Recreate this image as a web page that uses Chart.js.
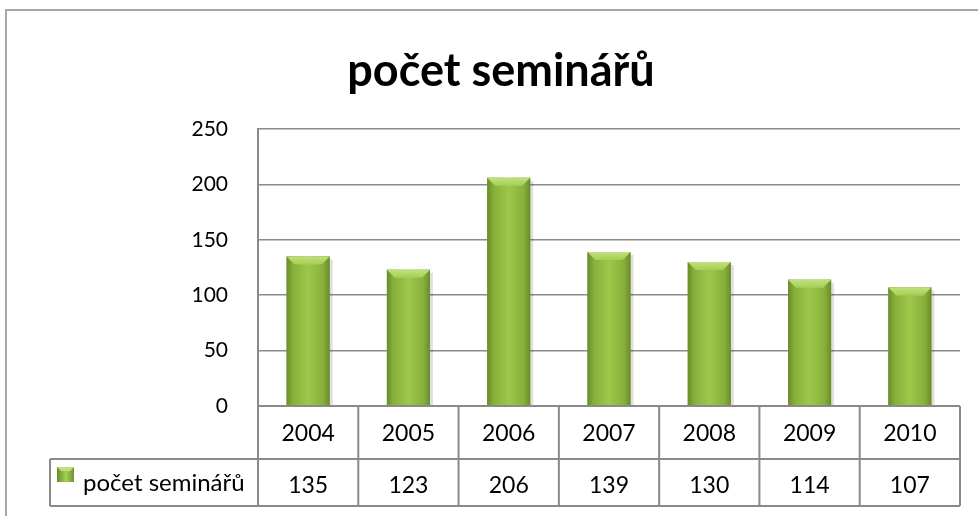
<!DOCTYPE html>
<html>
<head>
<meta charset="utf-8">
<script src="https://cdn.jsdelivr.net/npm/chart.js@4/dist/chart.umd.min.js"></script>
<style>
  html, body { margin: 0; padding: 0; background: #fff; }
  #wrap { width: 978px; height: 516px; position: relative; }
</style>
</head>
<body>
<div id="wrap"><canvas id="seminarChart" width="978" height="516"></canvas></div>
<script>
/* ---------- data ---------- */
const years = ["2004", "2005", "2006", "2007", "2008", "2009", "2010"];
const seminarCounts = [135, 123, 206, 139, 130, 114, 107];
const seriesLabel = "počet seminářů";
const chartTitle = "počet seminářů";

const FONT = "Lato, 'Open Sans', sans-serif";
const LINE = "#8a8a8a";

/* ---------- plugin: frame, title, bar shading, data table ---------- */
const tablePlugin = {
  id: "dataTable",
  beforeDraw(chart) {
    const ctx = chart.ctx;
    ctx.save();
    ctx.strokeStyle = "#a6a6a6";
    ctx.lineWidth = 2;
    ctx.beginPath();
    ctx.moveTo(6, 516);
    ctx.lineTo(6, 10);
    ctx.lineTo(978, 10);
    ctx.stroke();
    // title, centred on the whole frame
    ctx.fillStyle = "#000";
    ctx.font = "bold 45px " + FONT;
    ctx.textAlign = "center";
    ctx.textBaseline = "alphabetic";
    ctx.fillText(chartTitle, 501, 86);
    ctx.restore();
  },
  afterDatasetsDraw(chart) {
    const ctx = chart.ctx;
    const meta = chart.getDatasetMeta(0);
    meta.data.forEach(bar => {
      const l = bar.x - bar.width / 2, r = bar.x + bar.width / 2;
      const top = bar.y, bot = bar.base;
      ctx.save();
      // shadow
      ctx.fillStyle = "rgba(0,0,0,0.12)";
      ctx.fillRect(r, top + 3, 3, bot - top - 3);
      const g = ctx.createLinearGradient(l, 0, r, 0);
      g.addColorStop(0, "#6a8c2b");
      g.addColorStop(0.15, "#86b03a");
      g.addColorStop(0.5, "#9dc84a");
      g.addColorStop(0.85, "#86b03a");
      g.addColorStop(1, "#6a8c2b");
      ctx.fillStyle = g;
      ctx.fillRect(l, top, r - l, bot - top);
      // top bevel
      const bv = 8;
      const gb = ctx.createLinearGradient(0, top, 0, top + bv);
      gb.addColorStop(0, "#c2e07e");
      gb.addColorStop(1, "#a4cf54");
      ctx.fillStyle = gb;
      ctx.beginPath();
      ctx.moveTo(l, top);
      ctx.lineTo(r, top);
      ctx.lineTo(r - bv, top + bv);
      ctx.lineTo(l + bv, top + bv);
      ctx.closePath();
      ctx.fill();
      ctx.restore();
    });
  },
  afterDraw(chart) {
    const ctx = chart.ctx;
    const xs = chart.scales.x;
    const area = chart.chartArea;
    const half = (xs.getPixelForValue(1) - xs.getPixelForValue(0)) / 2;
    const y0 = area.bottom, y1 = y0 + 53, y2 = y1 + 47;
    const legendLeft = 50;

    ctx.save();
    ctx.strokeStyle = LINE;
    ctx.lineWidth = 2;
    ctx.beginPath();
    // horizontal rules
    ctx.moveTo(area.left, y0); ctx.lineTo(area.right, y0);
    ctx.moveTo(legendLeft, y1); ctx.lineTo(area.right, y1);
    ctx.moveTo(legendLeft, y2); ctx.lineTo(area.right, y2);
    // vertical rules
    ctx.moveTo(legendLeft, y1); ctx.lineTo(legendLeft, y2);
    years.forEach((_, i) => {
      const xl = xs.getPixelForValue(i) - half;
      ctx.moveTo(xl, y0); ctx.lineTo(xl, y2);
    });
    ctx.moveTo(area.right, y0); ctx.lineTo(area.right, y2);
    ctx.stroke();

    ctx.fillStyle = "#000";
    ctx.font = "23px " + FONT;
    ctx.textAlign = "center";
    ctx.textBaseline = "middle";
    years.forEach((yr, i) => {
      const cx = xs.getPixelForValue(i);
      ctx.fillText(yr, cx, (y0 + y1) / 2 + 1);
      ctx.fillText(String(seminarCounts[i]), cx, (y1 + y2) / 2 + 3);
    });

    // legend key
    const ky = y1 + 8;
    const g = ctx.createLinearGradient(57, 0, 75, 0);
    g.addColorStop(0, "#6a8c2b");
    g.addColorStop(0.5, "#a5cf52");
    g.addColorStop(1, "#6a8c2b");
    ctx.fillStyle = g;
    ctx.fillRect(57, ky, 17, 15);
    ctx.fillStyle = "#c2e07e";
    ctx.beginPath();
    ctx.moveTo(57, ky); ctx.lineTo(74, ky); ctx.lineTo(70, ky + 4); ctx.lineTo(61, ky + 4);
    ctx.closePath();
    ctx.fill();
    ctx.fillStyle = "#000";
    ctx.textAlign = "left";
    ctx.font = "24px " + FONT;
    ctx.fillText(seriesLabel, 83, (y1 + y2) / 2 + 1);
    ctx.restore();
  }
};

/* ---------- chart ---------- */
const ctx = document.getElementById("seminarChart").getContext("2d");
new Chart(ctx, {
  type: "bar",
  data: {
    labels: years,
    datasets: [{
      label: seriesLabel,
      data: seminarCounts,
      backgroundColor: "#8db43e",
      barPercentage: 0.86,
      categoryPercentage: 0.5
    }]
  },
  options: {
    responsive: false,
    animation: false,
    layout: { padding: { left: 0, right: 18, top: 129, bottom: 110 } },
    plugins: {
      legend: { display: false },
      tooltip: { enabled: false },
      title: { display: false }
    },
    scales: {
      x: { display: false },
      y: {
        min: 0,
        max: 250,
        afterFit: s => { s.width = 258; },
        ticks: {
          stepSize: 50,
          color: "#000",
          padding: 30,
          font: { family: FONT, size: 21 }
        },
        grid: { color: LINE, lineWidth: 1.5, drawTicks: false },
        border: { display: true, color: LINE, width: 2 }
      }
    }
  },
  plugins: [tablePlugin]
});
</script>
</body>
</html>
